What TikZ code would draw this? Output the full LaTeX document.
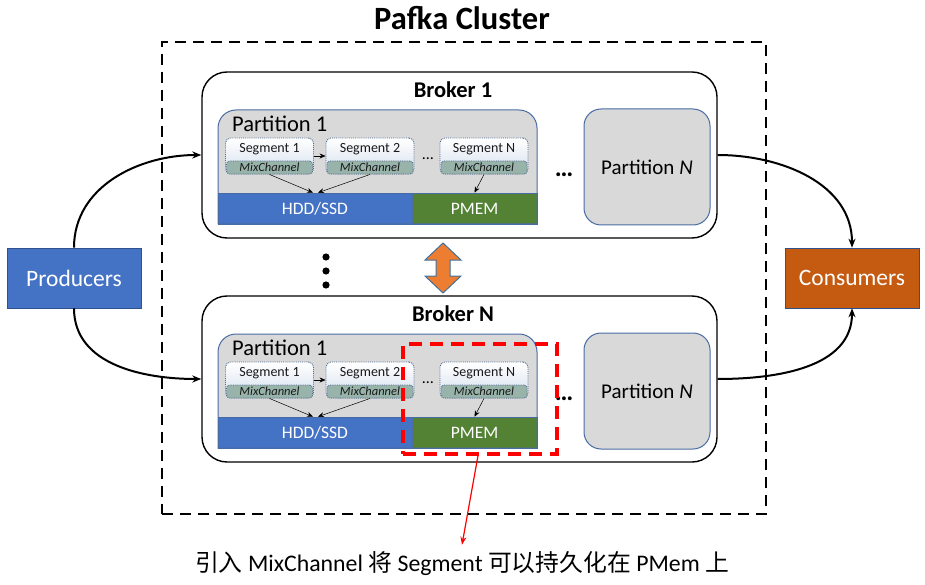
\documentclass[tikz,border=0pt]{standalone}
\usepackage{fontspec}
\setmainfont{Carlito}
\newfontfamily\cjk{Noto Sans CJK SC}
\usetikzlibrary{arrows.meta,shapes.geometric}
\definecolor{hddblue}{HTML}{4472C4}
\definecolor{pmemgreen}{HTML}{548235}
\definecolor{consorange}{HTML}{C55A11}
\definecolor{prodborder}{HTML}{2F528F}
\definecolor{partgray}{HTML}{D9D9D9}
\definecolor{partborder}{HTML}{4A6CA4}
\definecolor{segtop}{HTML}{D6E0EE}
\definecolor{bandcol}{HTML}{98B4AA}
\definecolor{segborder}{HTML}{4F6A8F}
\definecolor{arroworange}{HTML}{ED7D31}
\definecolor{arrowborder}{HTML}{41719C}
\newcommand\fs[1]{\fontsize{#1}{#1}\selectfont}
\tikzset{
  brokerbox/.style={draw=black, line width=1.4pt, rounded corners=25pt, fill=white,
    minimum width=515pt, minimum height=166pt, inner sep=0pt},
  bartext/.style={text=white, font=\fs{17.5}, inner sep=0pt, draw=partborder, line width=0.6pt,
    minimum height=31pt},
  segbox/.style={draw=segborder, densely dotted, line width=0.9pt, rounded corners=5pt,
    top color=white, bottom color=segtop, minimum width=88pt, minimum height=36pt, inner sep=0pt},
  bandbox/.style={draw=segborder, densely dotted, line width=0.8pt, rounded corners=3pt,
    fill=bandcol, minimum width=86pt, minimum height=13pt, inner sep=0pt,
    font=\fs{12.5}\itshape, text=black!90},
  seglabel/.style={font=\fs{14}, text=black!90, inner sep=0pt},
  partnbox/.style={draw=partborder, line width=1pt, fill=partgray, rounded corners=17pt,
    minimum width=126pt, minimum height=116pt, font=\fs{21}, inner sep=0pt},
  flow/.style={line width=2pt, -{Stealth[length=9pt,width=7pt]}},
  smallarrow/.style={line width=0.5pt, -{Stealth[length=6pt,width=5pt]}},
  endbox/.style={minimum width=134pt, minimum height=60pt, inner sep=0pt, text=white,
    font=\fs{23.5}, draw=prodborder, line width=0.6pt},
}
\newcommand\brokercontent[2]{%
  % #1 = suffix, #2 = y shift
  \begin{scope}[shift={(0,#2)}]
    \path[fill=partgray] (218,224) -- (218,128) arc[start angle=180,end angle=270,radius=18]
      -- (519,110) arc[start angle=270,end angle=360,radius=18] -- (537,224) -- cycle;
    \node[anchor=west, font=\fs{22.5}, inner sep=0pt] (p1lab#1) at (232,124) {Partition 1};
    \node[bartext, fill=hddblue, minimum width=194pt] (hdd#1) at (315,208.5) {HDD/SSD};
    \node[bartext, fill=pmemgreen, minimum width=125pt] (pmem#1) at (474.5,208.5) {PMEM};
    \draw[draw=partborder, line width=1pt] (218,224) -- (218,128) arc[start angle=180,end angle=270,radius=18]
      -- (519,110) arc[start angle=270,end angle=360,radius=18] -- (537,224) -- cycle;
    \foreach \n/\x/\t in {a/269.5/Segment 1, b/370/Segment 2, c/484/Segment N}{
      \node[segbox] (seg\n#1) at (\x,156) {};
      \node[bandbox] (band\n#1) at (\x,167.5) {MixChannel};
      \node[seglabel] (segl\n#1) at (\x,149) {\t};
    }
    \node[font=\fs{16}, inner sep=0pt] (sdots#1) at (428,159) {…};
    \draw[smallarrow] (sega#1.east) -- (segb#1.west);
    \draw[smallarrow] (sega#1.south) -- ([xshift=-2pt]hdd#1.north);
    \draw[smallarrow] (segb#1.south) -- ([xshift=3pt]hdd#1.north);
    \draw[smallarrow] (segc#1.south) -- (pmem#1.north);
    \node[font=\fs{26}\bfseries, inner sep=0pt] (pdots#1) at (564,175) {…};
    \node[partnbox] (pn#1) at (647,167) {Partition \textit{N}};
  \end{scope}%
}
\begin{document}
\begin{tikzpicture}[x=1pt,y=-1pt]
\useasboundingbox (0,0) rectangle (925,585);
\node[font=\fs{32.5}\bfseries, inner sep=0pt] (title) at (462,18) {Pafka Cluster};
\node[draw=black, line width=2.7pt, dash pattern=on 11pt off 7pt, minimum width=604pt,
  minimum height=472pt, inner sep=0pt] (cluster) at (464,278) {};
\node[brokerbox] (b1) at (459.5,155) {};
\node[brokerbox] (bN) at (459.5,379) {};
\node[font=\fs{22.5}\bfseries, inner sep=0pt] (b1lab) at (453,90) {Broker 1};
\node[font=\fs{22.5}\bfseries, inner sep=0pt] (bNlab) at (453,314) {Broker N};
\brokercontent{A}{0}
\brokercontent{B}{224}
% vertical dots
\foreach \y [count=\i] in {257,271,285}{
  \fill (326,\y) circle[radius=3.6pt];
}
% double arrow
\draw[fill=arroworange, draw=arrowborder, line width=1pt]
  (443,243) -- (461,260) -- (450,260) -- (450,276) -- (461,276) -- (443,293)
  -- (425,276) -- (436,276) -- (436,260) -- (425,260) -- cycle;
% producers / consumers
\node[endbox, fill=hddblue] (prod) at (74,278) {Producers};
\node[endbox, fill=consorange] (cons) at (852,278) {Consumers};
\draw[flow] (prod.north) to[out=90,in=180] (b1.west);
\draw[flow] (prod.south) to[out=-90,in=180] (bN.west);
\draw[flow] (b1.east) to[out=0,in=90] (cons.north);
\draw[flow] (bN.east) to[out=0,in=-90] (cons.south);
% red highlight
\node[draw=red, line width=3.2pt, dash pattern=on 13pt off 8pt, minimum width=154pt,
  minimum height=110pt, inner sep=0pt] (hl) at (480,399) {};
\node[font=\fs{23.8}, inner sep=0pt] (note) at (462,564)
  {{\cjk 引入} MixChannel {\cjk 将} Segment {\cjk 可以持久化在} PMem {\cjk 上}};
\draw[red, line width=1.2pt, -{Stealth[length=8pt,width=6pt]}] ([xshift=-2pt]hl.south) -- ([yshift=7pt]note.north);
\end{tikzpicture}
\end{document}
